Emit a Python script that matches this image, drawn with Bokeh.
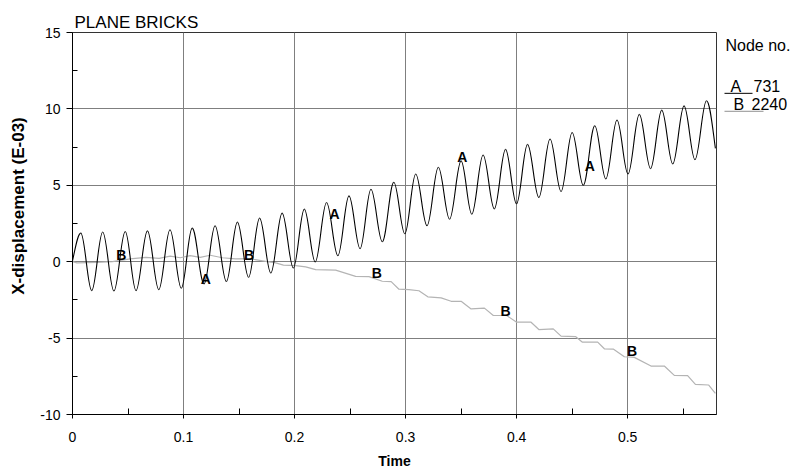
import math
from bokeh.plotting import figure
from bokeh.layouts import row
from bokeh.models import Range1d, FixedTicker, ColumnDataSource
from bokeh.core.properties import value
from bokeh.embed import file_html
from bokeh.resources import INLINE

# ---------------- data ----------------
title_text = "PLANE BRICKS"
x_label = "Time"
y_label = "X-displacement (E-03)"
legend_title = "Node no."
node_names = ["A", "B"]
node_numbers = ["731", "2240"]

x_major = [0, 0.1, 0.2, 0.3, 0.4, 0.5]
x_tick_labels = ["0", "0.1", "0.2", "0.3", "0.4", "0.5"]
x_minor = [0.05, 0.15, 0.25, 0.35, 0.45, 0.55]
y_major = [-10, -5, 0, 5, 10, 15]
y_tick_labels = ["-10", "-5", "0", "5", "10", "15"]
y_minor = [-7.5, -2.5, 2.5, 7.5, 12.5]

# Node A (731): start, successive peaks / troughs, end
a_time = [0.000, 0.0075, 0.0173, 0.0272, 0.0373, 0.0475, 0.0572, 0.0675, 0.0777,
          0.0878, 0.0980, 0.1078, 0.1185, 0.1284, 0.1386, 0.1485, 0.1586, 0.1685,
          0.1786, 0.1888, 0.1989, 0.2088, 0.2186, 0.2288, 0.2390, 0.2490, 0.2590,
          0.2688, 0.2790, 0.2894, 0.2993, 0.3091, 0.3193, 0.3295, 0.3396, 0.3500,
          0.3596, 0.3698, 0.3799, 0.3900, 0.3999, 0.4098, 0.4200, 0.4301, 0.4400,
          0.4500, 0.4600, 0.4704, 0.4803, 0.4904, 0.5003, 0.5105, 0.5206, 0.5307,
          0.5406, 0.5508, 0.5606, 0.5710, 0.5790]
a_disp = [0.05, 1.87, -1.89, 1.94, -1.92, 1.98, -1.89, 2.02, -1.83,
          2.09, -1.74, 2.20, -1.45, 2.35, -1.30, 2.59, -1.02, 2.85,
          -0.74, 3.18, -0.41, 3.44, -0.02, 3.87, 0.39, 4.31, 0.85,
          4.74, 1.31, 5.20, 1.83, 5.74, 2.35, 6.18, 2.78, 6.60,
          3.11, 6.98, 3.46, 7.35, 3.79, 7.68, 4.20, 8.03, 4.59,
          8.46, 5.00, 8.90, 5.42, 9.27, 5.74, 9.64, 6.09, 9.92,
          6.40, 10.20, 6.68, 10.53, 7.42]

# Node B (2240)
b_time = [0.000, 0.004, 0.022, 0.036, 0.052, 0.066, 0.078, 0.088, 0.097, 0.106,
          0.115, 0.124, 0.135, 0.147, 0.159, 0.171, 0.183, 0.190, 0.201, 0.210,
          0.219, 0.237, 0.255, 0.267, 0.279, 0.287, 0.294, 0.303, 0.312, 0.320,
          0.332, 0.341, 0.350, 0.359, 0.371, 0.379, 0.391, 0.400, 0.413, 0.420,
          0.433, 0.440, 0.453, 0.459, 0.473, 0.479, 0.487, 0.497, 0.506, 0.521,
          0.533, 0.542, 0.554, 0.561, 0.573, 0.579]
b_disp = [0.00, -0.08, -0.04, 0.00, 0.18, 0.28, 0.22, 0.36, 0.26, 0.40,
          0.28, 0.42, 0.26, 0.18, 0.20, 0.06, -0.08, -0.22, -0.26, -0.34,
          -0.52, -0.55, -0.96, -0.98, -1.28, -1.30, -1.80, -1.83, -1.90, -2.30,
          -2.37, -2.59, -2.59, -3.09, -3.04, -3.52, -3.52, -3.96, -3.96, -4.44,
          -4.40, -4.87, -4.90, -5.26, -5.26, -5.70, -5.72, -6.22, -6.26, -6.83,
          -6.83, -7.44, -7.46, -8.03, -8.07, -8.62]

# curve identification letters
a_mark_time = [0.120, 0.236, 0.351, 0.466]
a_mark_disp = [-1.1, 3.1, 6.85, 6.27]
b_mark_time = [0.044, 0.159, 0.274, 0.390, 0.504]
b_mark_disp = [0.46, 0.46, -0.72, -3.2, -5.87]

# ---------------- styling ----------------
FONT = "Liberation Sans"
A_COLOR = "#000000"
B_COLOR = "#b4b4b4"
B_KEY = "#909090"
GRID = "#7f7f7f"
PAGE_H = 471
FRAME_TOP, FRAME_BOTTOM = 32, 415   # page pixels of the plotting frame
LABEL_W = 28                        # width of the strip holding the y-axis title
LEGEND_W = 80                       # width of the strip holding the node list


def side_panel(width):
    """A bare figure whose frame is aligned with the main frame (page pixels, y down)."""
    f = figure(width=width, height=PAGE_H, x_range=Range1d(0, width),
               y_range=Range1d(FRAME_BOTTOM, FRAME_TOP),
               x_axis_type=None, y_axis_type=None, output_backend="svg",
               toolbar_location=None, min_border_left=0, min_border_right=0,
               min_border_top=FRAME_TOP, min_border_bottom=PAGE_H - FRAME_BOTTOM,
               background_fill_color="white", border_fill_color="white")
    f.title.visible = False
    f.outline_line_color = None
    f.grid.visible = False
    return f


p = figure(width=797 - LABEL_W - LEGEND_W, height=PAGE_H,
           x_range=Range1d(0, 0.58), y_range=Range1d(-10, 15),
           output_backend="svg", toolbar_location=None,
           min_border_left=69 - LABEL_W + 3, min_border_right=1, min_border_top=FRAME_TOP,
           min_border_bottom=PAGE_H - FRAME_BOTTOM,
           background_fill_color="white", border_fill_color="white")
p.outline_line_color = "#333333"
p.outline_line_width = 1

p.title.text = title_text
p.title.text_font = FONT
p.title.text_font_size = "17px"
p.title.text_font_style = "normal"
p.title.text_color = "black"
p.title.align = "left"
p.title.offset = 2
p.title.standoff = 2

for ax, ticks, minors, labels in ((p.xaxis[0], x_major, x_minor, x_tick_labels),
                                  (p.yaxis[0], y_major, y_minor, y_tick_labels)):
    ax.ticker = FixedTicker(ticks=ticks, minor_ticks=minors)
    ax.major_label_overrides = dict(zip(ticks, labels))
    ax.axis_line_color = "black"
    ax.major_tick_line_color = "black"
    ax.minor_tick_line_color = "black"
    ax.major_tick_in = 0
    ax.minor_tick_out = 0
    ax.major_label_text_font = FONT
    ax.major_label_text_font_size = "14px"
    ax.major_label_text_color = "black"

p.xaxis.major_tick_out = 4
p.xaxis.minor_tick_in = 6
p.xaxis.major_label_standoff = 13
p.xaxis.axis_label = x_label
p.xaxis.axis_label_text_font = FONT
p.xaxis.axis_label_text_font_style = "bold"
p.xaxis.axis_label_text_color = "black"
p.xaxis.axis_label_text_font_size = "14px"
p.xaxis.axis_label_standoff = 8

p.yaxis.major_tick_out = 6
p.yaxis.minor_tick_in = 5
p.yaxis.major_label_standoff = 6

p.xgrid.grid_line_color = GRID
p.ygrid.grid_line_color = GRID

# curve B
p.line(b_time, b_disp, line_color=B_COLOR, line_width=1.2)

# curve A: smooth segments between the read extrema (horizontal tangents at extrema)
K = 0.3634
seg = dict(x0=[], y0=[], x1=[], y1=[], cx0=[], cy0=[], cx1=[], cy1=[])
n = len(a_time)
for i in range(n - 1):
    ta, va, tb, vb = a_time[i], a_disp[i], a_time[i + 1], a_disp[i + 1]
    d = tb - ta
    seg["x0"].append(ta); seg["y0"].append(va)
    seg["x1"].append(tb); seg["y1"].append(vb)
    seg["cx0"].append(ta + K * d)
    seg["cx1"].append(tb - K * d)
    seg["cy0"].append(va if i > 0 else va + 0.5 * (vb - va))
    seg["cy1"].append(vb if i + 1 < n - 1 else vb + 0.5 * (va - vb))
p.bezier(x0="x0", y0="y0", x1="x1", y1="y1", cx0="cx0", cy0="cy0", cx1="cx1", cy1="cy1",
         source=ColumnDataSource(seg), line_color=A_COLOR, line_width=1.1)

# curve letters
for mt, md, name in ((a_mark_time, a_mark_disp, node_names[0]),
                     (b_mark_time, b_mark_disp, node_names[1])):
    p.text(mt, md, text=[name] * len(mt), text_font=value(FONT),
           text_font_size="14px", text_font_style="bold", text_align="center",
           text_baseline="middle", text_color="black")

# ---------------- y-axis title strip ----------------
yl = side_panel(LABEL_W)
yl.text([18], [206], text=[y_label], angle=math.pi / 2, text_font=value(FONT),
        text_font_size="17px", text_font_style="bold", text_align="center",
        text_baseline="middle", text_color="black")

# ---------------- node list strip ----------------
lg = side_panel(LEGEND_W)
TXT = dict(text_font=value(FONT), text_font_size="16px", text_baseline="middle",
           text_align="left", text_color="black")
lg.text([8], [45], text=[legend_title], **TXT)
lg.text([13, 16], [86, 104], text=node_names, **TXT)
lg.text([36, 34], [86, 104], text=node_numbers, **TXT)
lg.segment(x0=[7], y0=[93], x1=[35], y1=[93], line_color=A_COLOR, line_width=1)
lg.segment(x0=[7], y0=[111], x1=[46], y1=[111], line_color=B_KEY, line_width=1)

open("out.html", "w").write(file_html(row(yl, p, lg), INLINE))
